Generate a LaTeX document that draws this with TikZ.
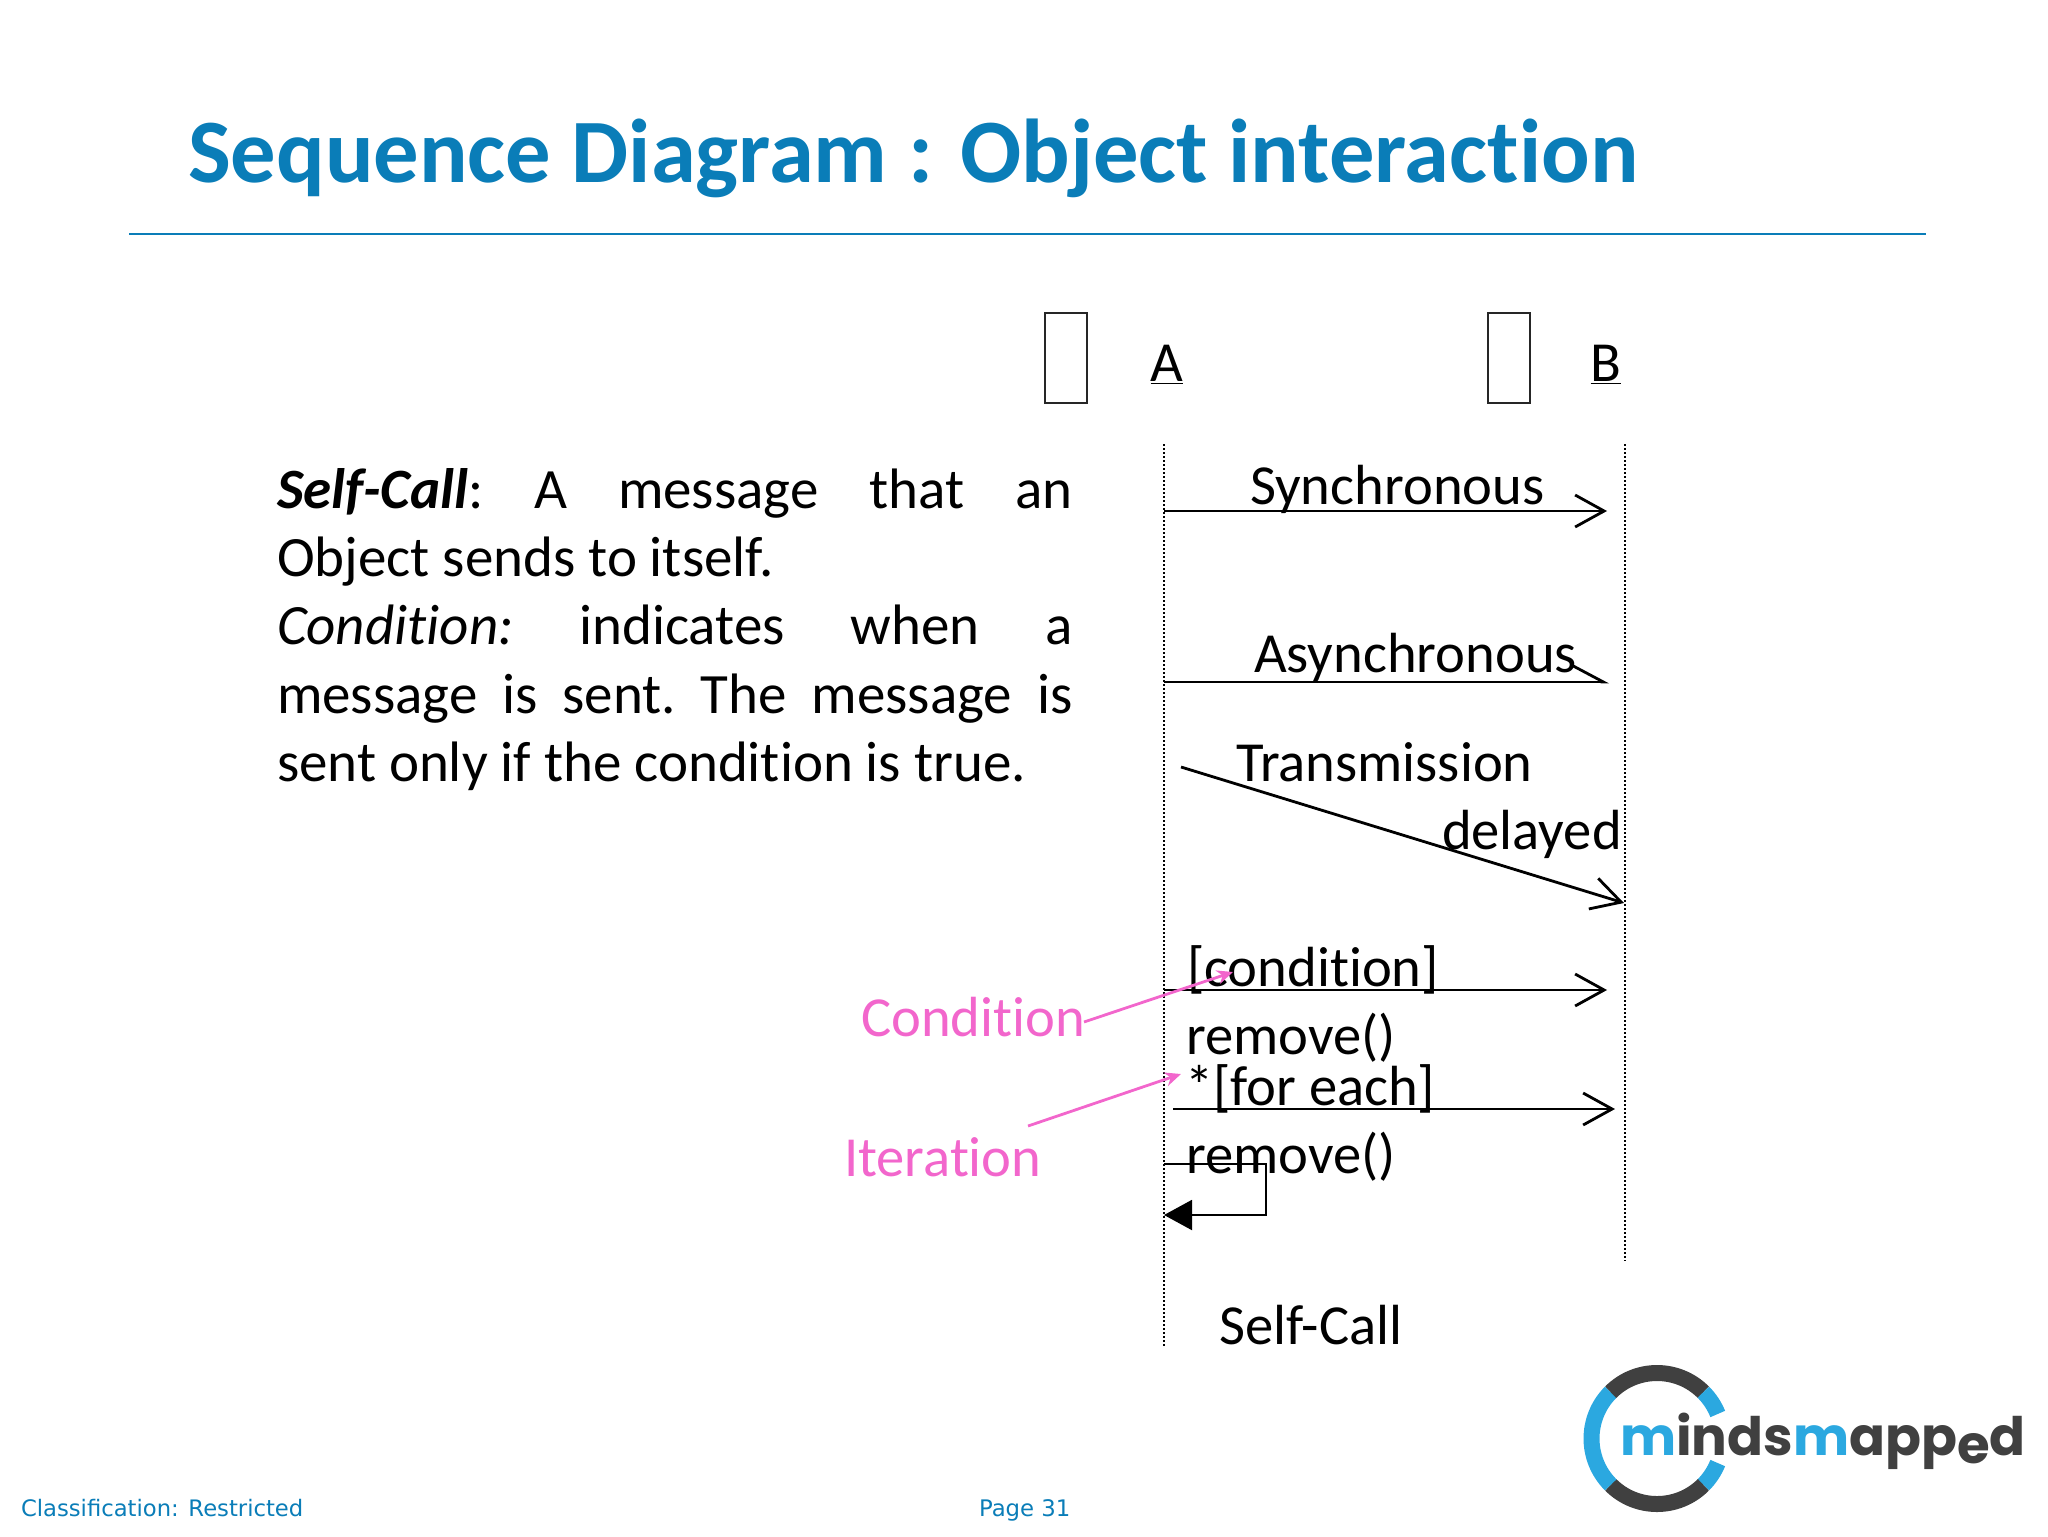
\documentclass[tikz,border=0pt]{standalone}
\usepackage{fontspec}
\setmainfont[Ligatures=CommonOff]{Carlito}
\newfontfamily\footfont{DejaVu Sans}
\newfontfamily\logofont{Poppins}
\usetikzlibrary{arrows.meta, positioning}
\definecolor{slideblue}{HTML}{0A7DB8}
\definecolor{notepink}{HTML}{F266CC}
\definecolor{logoblue}{HTML}{2BA8E0}
\definecolor{logodark}{HTML}{404040}
\newcommand{\fullline}[1]{\makebox[397.7pt][s]{#1}}

\begin{document}
\begin{tikzpicture}[
    x=0.5pt, y=-0.5pt,
    every node/.style={inner sep=0pt, outer sep=0pt},
    msg/.style={anchor=base west, font=\fontsize{28.3}{32}\selectfont},
    note/.style={anchor=base west, text=notepink, font=\fontsize{28.3}{32}\selectfont},
    actor/.style={draw=black!85, line width=1pt, minimum width=21pt, minimum height=45pt},
    lifeline/.style={line width=1pt, dash pattern=on 1pt off 1pt},
    arrow/.style={-{Straight Barb[length=14.5pt, width=16pt]}, line width=1.4pt},
    pink_arrow/.style={-{Stealth[length=8pt, width=7pt]}, notepink, line width=1.4pt},
    ring/.style={line width=8pt}
]
    \useasboundingbox (0,0) rectangle (2048,1536);

    % Heading
    \node[anchor=base west, text=slideblue, font=\bfseries\fontsize{45.3}{50}\selectfont] (title) at (188,182) {Sequence Diagram : Object interaction};
    \coordinate (rule_l) at (129,234);
    \coordinate (rule_r) at (1926,234);
    \draw[slideblue, line width=0.8pt] (rule_l) -- (rule_r);

    % Left text
    \node[anchor=north west, align=left, font=\frenchspacing\fontsize{28.5}{34.2}\selectfont] (descr) at (277,468) {\fullline{\textbf{\textit{Self-Call}}: A message that an}\\ Object sends to itself.\\ \fullline{\textit{Condition:} indicates when a}\\ \fullline{message is sent. The message is}\\ sent only if the condition is true.};

    % Objects
    \node[actor] (box_a) at (1065.5,358) {};
    \node[actor] (box_b) at (1508.5,358) {};
    \node[msg, anchor=base] (name_a) at (1167,381) {\underline{A}};
    \node[msg, anchor=base] (name_b) at (1606,381) {\underline{B}};

    % Lifelines
    \coordinate (a_top) at (1164,444);
    \coordinate (a_bot) at (1164,1347);
    \coordinate (b_top) at (1625,444);
    \coordinate (b_bot) at (1625,1261);
    \draw[lifeline] (a_top) -- (a_bot);
    \draw[lifeline] (b_top) -- (b_bot);

    % Messages
    \node[msg] (sync) at (1250,504) {Synchronous};
    \coordinate (sync_a) at (1164,511);
    \coordinate (sync_b) at (1607,511);
    \draw[arrow] (sync_a) -- (sync_b);

    \node[msg] (async) at (1254,672) {Asynchronous};
    \coordinate (async_a) at (1164,682);
    \coordinate (async_b) at (1609,682);
    \draw[-{Straight Barb[length=16pt, width=17pt, left]}, line width=1.4pt] (async_a) -- (async_b);

    \node[msg] (trans) at (1236,781) {Transmission};
    \node[msg] (delayed) at (1442,849) {delayed};
    \coordinate (delay_a) at (1181,767);
    \coordinate (delay_b) at (1624,903);
    \draw[arrow] (delay_a) -- (delay_b);

    \node[msg] (cond) at (1187,986) {[condition]};
    \node[msg] (remove_one) at (1186,1054) {remove()};
    \coordinate (cond_a) at (1164,990);
    \coordinate (cond_b) at (1607,990);
    \draw[arrow] (cond_a) -- (cond_b);

    \node[msg] (each) at (1185,1105) {*[for each]};
    \node[msg] (remove_two) at (1186,1173) {remove()};
    \coordinate (each_a) at (1173,1109);
    \coordinate (each_b) at (1615,1109);
    \draw[arrow] (each_a) -- (each_b);

    % Self call
    \coordinate (self_a) at (1164,1164);
    \coordinate (self_c) at (1266,1164);
    \coordinate (self_d) at (1266,1215);
    \coordinate (self_b) at (1164,1215);
    \draw[-{Triangle[length=14pt, width=15pt]}, line width=1pt] (self_a) -- (self_c) -- (self_d) -- (self_b);
    \node[msg] (self) at (1219,1344) {Self-Call};

    % Notes
    \node[note] (note_cond) at (861,1036) {Condition};
    \node[note] (note_iter) at (844,1176) {Iteration};
    \coordinate (cond_tail) at (1084,1022);
    \coordinate (cond_tip) at (1233,972);
    \coordinate (iter_tail) at (1028,1126);
    \coordinate (iter_tip) at (1181,1074);
    \draw[pink_arrow] (cond_tail) -- (cond_tip);
    \draw[pink_arrow] (iter_tail) -- (iter_tip);

    % Logo
    \draw[ring, logoblue] (1657,1438.5) ++(22:65.5) arc[start angle=22, end angle=45, radius=65.5];
    \draw[ring, logodark] (1657,1438.5) ++(45:65.5) arc[start angle=45, end angle=135, radius=65.5];
    \draw[ring, logoblue] (1657,1438.5) ++(135:65.5) arc[start angle=135, end angle=225, radius=65.5];
    \draw[ring, logodark] (1657,1438.5) ++(225:65.5) arc[start angle=225, end angle=315, radius=65.5];
    \draw[ring, logoblue] (1657,1438.5) ++(315:65.5) arc[start angle=315, end angle=338, radius=65.5];
    \node[anchor=base west, text=logodark, font=\logofont\bfseries\fontsize{26.5}{30}\selectfont] (logo) at (1620,1455) {\textcolor{logoblue}{m}inds\textcolor{logoblue}{m}app\raisebox{-4pt}{e}d};

    % Footer
    \node[anchor=base west, text=slideblue, font=\footfont\fontsize{11.35}{14}\selectfont] (classif) at (21,1516) {Classification: Restricted};
    \node[anchor=base west, text=slideblue, font=\footfont\fontsize{11.4}{14}\selectfont] (page) at (979,1516) {Page 31};
\end{tikzpicture}
\end{document}
